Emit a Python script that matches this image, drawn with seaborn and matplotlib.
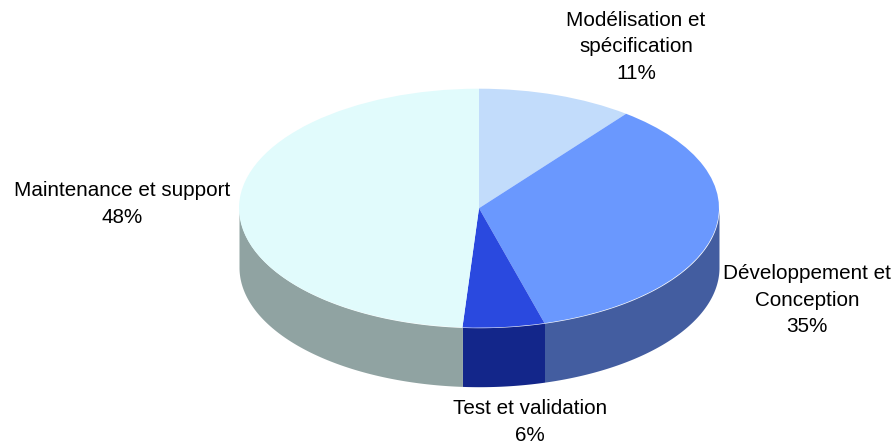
import numpy as np
import seaborn as sns
import matplotlib.pyplot as plt

# Labels as printed and the slice shares measured on the ellipse
categories = ['Modélisation et\nspécification', 'Développement et\nConception', 'Test et validation', 'Maintenance et support']
percents = [11, 35, 6, 48]
shares = [10.5, 35.1, 5.5, 48.9]
top_colors = ['#c2dcfb', '#6a98fe', '#2a49df', '#e1fbfc']
side_colors = ['#8a9bb0', '#435da0', '#13268a', '#90a3a2']

sns.set_theme(style='white')
plt.rcParams['font.family'] = ['Liberation Sans', 'DejaVu Sans']

fig, ax = plt.subplots(figsize=(8.95, 4.46), dpi=100)
ax.set_position([0, 0, 1, 1])

# pie radius is 1 data unit, the axes squash it into an ellipse
cx, cy, rx, ry, depth = 479, 208.2, 240, 119.5, 59
wedges, _ = ax.pie(shares, colors=top_colors, startangle=90, counterclock=False,
                   wedgeprops={'linewidth': 0})
for w in wedges:
    w.set_zorder(3)

edges = np.concatenate([[0], np.cumsum(shares)]) / np.sum(shares) * 2 * np.pi
for i in range(len(shares)):
    t = np.linspace(edges[i], edges[i + 1], 200)
    x = np.sin(t)
    y = np.cos(t)
    # only the front half of the rim shows
    front = (t >= np.pi / 2) & (t <= 3 * np.pi / 2)
    if front.sum() > 1:
        ax.fill_between(x[front], y[front], y[front] - depth / ry, color=side_colors[i], linewidth=0, zorder=2)

ax.set_aspect('auto')
ax.set_xlim(-cx / rx, (895 - cx) / rx)
ax.set_ylim((cy - 446) / ry, cy / ry)


def px(xp, yp):
    return (xp - cx) / rx, (cy - yp) / ry


label_pos = [(636, 47), (807, 300), (530, 422), (122, 204)]
for name, pct, pos in zip(categories, percents, label_pos):
    ax.text(*px(*pos), f'{name}\n{pct}%', ha='center', va='center', fontsize=14.85,
            color='black', linespacing=1.48, zorder=5)

plt.savefig('out.png', dpi=100)
